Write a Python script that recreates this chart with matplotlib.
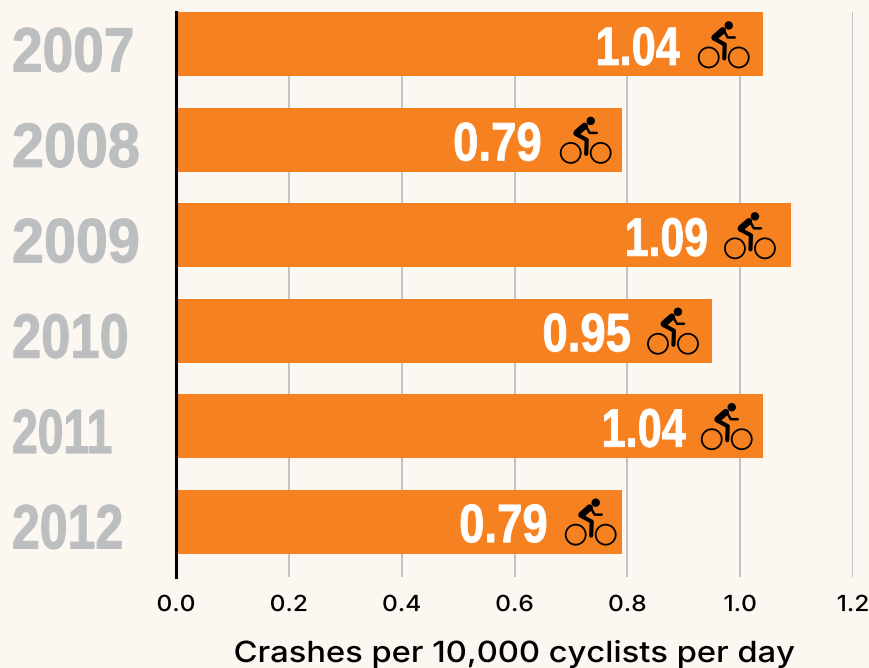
import matplotlib
matplotlib.use('Agg')
import matplotlib.pyplot as plt
from matplotlib.patches import Circle
from matplotlib.patheffects import AbstractPathEffect
from matplotlib.transforms import Affine2D, ScaledTranslation

# Datos
years = ['2007', '2008', '2009', '2010', '2011', '2012']
crashes = [1.04, 0.79, 1.09, 0.95, 1.04, 0.79]
value_labels = ['1.04', '0.79', '1.09', '0.95', '1.04', '0.79']
x_ticks = [0.0, 0.2, 0.4, 0.6, 0.8, 1.0, 1.2]

# Colocacion del icono y del texto respecto al final de la barra, en pixeles
icon_shift = [-39, -36, -41, -39, -36, -31]
label_gap = [-44, -44, -42, -42, -41, -43]
# Estrechado horizontal de cada texto (no hay fuente condensada instalada)
year_stretch = [0.88, 0.92, 0.92, 0.84, 0.74, 0.80]
value_stretch = [0.80, 0.84, 0.79, 0.84, 0.80, 0.84]

BG = '#fcf7f0'
ORANGE = '#f68121'
GREY = '#bcbec0'
W, H = 869, 668
narrow = ['Liberation Sans', 'DejaVu Sans']
wide = ['Inter', 'DejaVu Sans']


class Stretch(AbstractPathEffect):
    # escala el texto en horizontal alrededor de su punto de anclaje
    def __init__(self, txt, sx, stroke=0.0):
        super().__init__()
        self.txt = txt
        self.sx = sx
        self.stroke = stroke

    def draw_path(self, renderer, gc, tpath, affine, rgbFace=None):
        x0 = self.txt.get_transform().transform(self.txt.get_position())[0]
        tr = affine + Affine2D().translate(-x0, 0).scale(self.sx, 1).translate(x0, 0)
        gc0 = renderer.new_gc()
        gc0.copy_properties(gc)
        gc0.set_linewidth(self.stroke)
        if self.stroke:
            gc0.set_foreground(rgbFace)
        renderer.draw_path(gc0, tpath, tr, rgbFace)
        gc0.restore()


fig = plt.figure(figsize=(W / 100, H / 100), dpi=100, facecolor=BG)
ax = fig.add_axes([176 / W, 1 - 577 / H, (853 - 176) / W, (577 - 12) / H], facecolor=BG)
ax.set_xlim(0, 1.2)
ax.set_ylim(5.92, -0.0)

ypos = [i + 0.34 for i in range(len(years))]
ax.barh(ypos, crashes, height=0.67, color=ORANGE, zorder=2)


def draw_bike(x, y, shift):
    # icono en pixeles, origen entre las dos ruedas a la altura de los ejes
    base = Affine2D().scale(1, -1) + ScaledTranslation(x, y, ax.transData)
    base = Affine2D().translate(shift, 0) + base
    for cx in (-15, 15):
        ax.add_patch(Circle((cx, 0), 10, fill=False, ec='black', lw=1.3, transform=base, zorder=4))
    ax.add_patch(Circle((5, -32), 4.2, fc='black', ec='none', transform=base, zorder=4))
    ax.plot([-10, 1, 0.5], [-19, -13, 1], color='black', lw=3.0, solid_capstyle='round',
            solid_joinstyle='round', transform=base, zorder=4)
    ax.plot([-9, -1], [-20, -27], color='black', lw=4.8, solid_capstyle='round',
            transform=base, zorder=4)
    ax.plot([0, 4, 11], [-27, -20, -20], color='black', lw=1.8, solid_capstyle='round',
            solid_joinstyle='round', transform=base, zorder=4)


for i, (y, v) in enumerate(zip(ypos, crashes)):
    draw_bike(v, y + 13 / 95.4, icon_shift[i])
    tr = ax.transData + Affine2D().translate(icon_shift[i] + label_gap[i], -1)
    t = ax.text(v, y, value_labels[i], color='white', fontsize=39, fontweight='bold', family=narrow,
                ha='right', va='center_baseline', transform=tr, zorder=5)
    t.set_path_effects([Stretch(t, value_stretch[i], 0.6)])
    t = ax.text(12 / W, 1 - (12 + (y * 95.4) + 4) / H, years[i], color=GREY, fontsize=45,
                fontweight='bold', family=narrow, ha='left', va='center_baseline',
                transform=fig.transFigure)
    t.set_path_effects([Stretch(t, year_stretch[i], 0.8)])

ax.set_xticks(x_ticks)
ax.set_xticklabels(['%.1f' % t for t in x_ticks], fontsize=16, family=wide, fontweight='medium')
for lab in ax.get_xticklabels():
    lab.set_path_effects([Stretch(lab, 1.1)])
ax.set_yticks([])
ax.tick_params(axis='x', length=0, pad=13)
ax.xaxis.grid(True, color=GREY, lw=1.3, zorder=1)
ax.set_axisbelow(True)
for s in ['top', 'right', 'bottom']:
    ax.spines[s].set_visible(False)
ax.spines['left'].set_linewidth(2.2)
ax.spines['left'].set_color('black')

t = fig.text(514 / W, 1 - 654 / H, 'Crashes per 10,000 cyclists per day', fontsize=21, family=wide,
             fontweight='medium', ha='center', va='center')
t.set_path_effects([Stretch(t, 1.12)])

fig.savefig('out.png', dpi=100, facecolor=BG)
